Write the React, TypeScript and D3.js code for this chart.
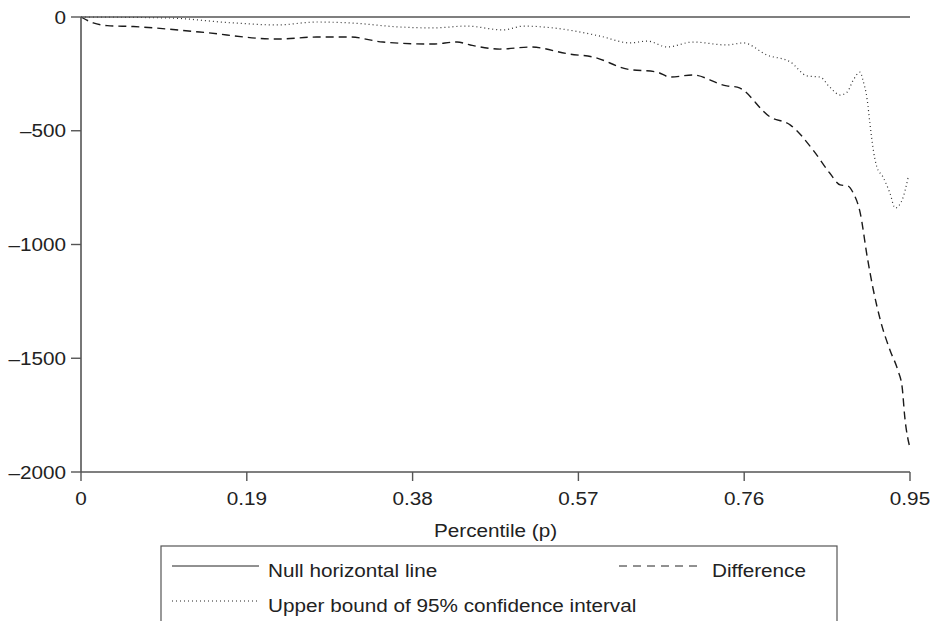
import React from "react";
import * as d3 from "d3";

// percentile grid (p, value)
const diffP = [0, 0.014, 0.03, 0.06, 0.136, 0.225, 0.27, 0.308, 0.346, 0.403, 0.431, 0.446, 0.48, 0.515, 0.56, 0.587, 0.626, 0.66, 0.675, 0.701, 0.74, 0.752, 0.79, 0.813, 0.839, 0.858, 0.87, 0.879, 0.885, 0.893, 0.901, 0.908, 0.916, 0.927, 0.936, 0.941, 0.944, 0.95];
const diffV = [0, -26, -38, -42, -66, -97, -88, -88, -110, -119, -110, -123, -141, -132, -163, -176, -229, -242, -264, -255, -303, -308, -440, -475, -585, -686, -738, -743, -774, -862, -1055, -1200, -1332, -1464, -1552, -1627, -1758, -1895];

const upperP = [0, 0.099, 0.174, 0.225, 0.27, 0.308, 0.366, 0.403, 0.442, 0.484, 0.507, 0.541, 0.595, 0.629, 0.649, 0.672, 0.701, 0.74, 0.759, 0.786, 0.813, 0.832, 0.847, 0.858, 0.87, 0.878, 0.885, 0.893, 0.896, 0.901, 0.904, 0.908, 0.912, 0.919, 0.927, 0.933, 0.941, 0.948];
const upperV = [0, -4, -26, -35, -22, -26, -44, -48, -40, -57, -40, -48, -84, -114, -106, -132, -110, -123, -114, -167, -198, -259, -264, -308, -343, -330, -277, -242, -277, -365, -466, -585, -659, -703, -774, -840, -804, -703];

const xTicks = [0, 0.19, 0.38, 0.57, 0.76, 0.95];
const yTicks = [0, -500, -1000, -1500, -2000];

const legendItems = [
  { label: "Null horizontal line", dash: "none", x: 172, y: 566, len: 87 },
  { label: "Difference", dash: "8,6", x: 619, y: 566, len: 84 },
  { label: "Upper bound of 95% confidence interval", dash: "1,3", x: 172, y: 601, len: 87 },
];

const FONT = "'Liberation Sans', Arial, Helvetica, sans-serif";
const SX = 1.12; // the source type is a bit wide

function Txt({ x, y, anchor = "start", children }: any) {
  return (
    <text
      transform={`translate(${x},${y}) scale(${SX},1)`}
      textAnchor={anchor}
      fontFamily={FONT}
      fontSize={18.5}
      fill="#222"
    >
      {children}
    </text>
  );
}

export default function App() {
  const x = d3.scaleLinear().domain([0, 0.95]).range([81, 910]);
  const y = d3.scaleLinear().domain([-2000, 0]).range([472, 17]);

  const line = d3
    .line<[number, number]>()
    .x((d) => x(d[0]))
    .y((d) => y(d[1]))
    .curve(d3.curveMonotoneX);

  const diff = diffP.map((p, i) => [p, diffV[i]] as [number, number]);
  const upper = upperP.map((p, i) => [p, upperV[i]] as [number, number]);

  const axisCol = "#555";

  return (
    <svg width={936} height={621} style={{ position: "absolute", left: 0, top: 0, background: "#fff" }}>
      {/* data lines */}
      <path d={line(upper) || ""} fill="none" stroke="#333" strokeWidth={1.2} strokeDasharray="1,3" />
      <path d={line(diff) || ""} fill="none" stroke="#1a1a1a" strokeWidth={1.4} strokeDasharray="8,5" />

      {/* null line */}
      <line x1={x(0)} x2={x(0.95)} y1={y(0)} y2={y(0)} stroke={axisCol} strokeWidth={1.6} />

      {/* y axis */}
      <line x1={x(0)} x2={x(0)} y1={y(0)} y2={y(-2000)} stroke={axisCol} strokeWidth={1.6} />
      {yTicks.map((t) => (
        <g key={t}>
          <line x1={x(0) - 10} x2={x(0)} y1={y(t)} y2={y(t)} stroke={axisCol} strokeWidth={1.4} />
          <Txt x={66} y={y(t) + 6.5} anchor="end">
            {t === 0 ? "0" : "\u2013" + Math.abs(t)}
          </Txt>
        </g>
      ))}

      {/* x axis */}
      <line x1={x(0)} x2={x(0.95)} y1={y(-2000)} y2={y(-2000)} stroke={axisCol} strokeWidth={1.6} />
      {xTicks.map((t) => (
        <g key={t}>
          <line x1={x(t)} x2={x(t)} y1={y(-2000)} y2={y(-2000) + 9} stroke={axisCol} strokeWidth={1.4} />
          <Txt x={x(t)} y={505} anchor="middle">
            {t === 0 ? "0" : d3.format(".2f")(t)}
          </Txt>
        </g>
      ))}
      <Txt x={(x(0) + x(0.95)) / 2} y={537} anchor="middle">
        Percentile (p)
      </Txt>

      {/* legend */}
      <rect x={161} y={546} width={676} height={90} fill="none" stroke={axisCol} strokeWidth={1.2} />
      {legendItems.map((it) => (
        <g key={it.label}>
          <line
            x1={it.x}
            x2={it.x + it.len}
            y1={it.y}
            y2={it.y}
            stroke="#222"
            strokeWidth={1}
            strokeDasharray={it.dash}
          />
          <Txt x={it.x + it.len + 9} y={it.y + 11}>
            {it.label}
          </Txt>
        </g>
      ))}
    </svg>
  );
}
